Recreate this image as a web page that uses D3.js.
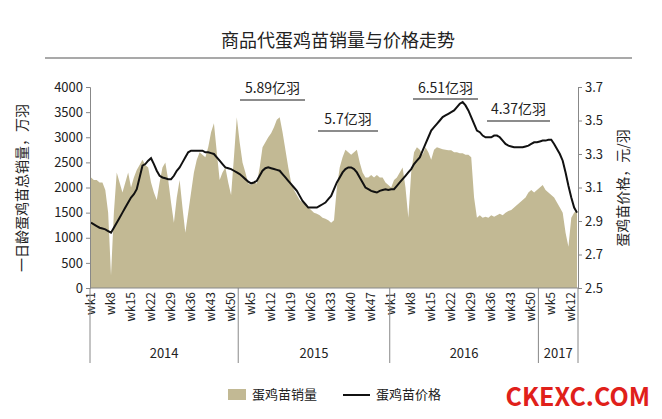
<!DOCTYPE html>
<html><head><meta charset="utf-8">
<script src="https://cdn.jsdelivr.net/npm/d3@7/dist/d3.min.js"></script>
<style>body{margin:0;background:#fff}text{font-family:"Noto Sans CJK SC","Liberation Sans",sans-serif}</style>
</head><body><svg id="c" width="662" height="419"></svg>
<script>
const years = ['2014', '2015', '2016', '2017']
const weeksPerYear = [52, 53, 52, 14]
const sales = [2200,2150,2150,2100,2100,1950,1500,250,1500,2300,2100,1900,2100,2300,2000,2200,2350,2450,2550,2450,
  2400,2100,1900,1750,2100,2400,2500,2150,1700,1300,1800,2150,1600,1100,1500,1900,2300,2550,2700,2650,
  2600,2800,3100,3280,2700,2150,2300,2400,2100,1850,2600,3400,2900,2500,2300,2080,2050,2100,2080,2400,
  2800,2900,3000,3080,3200,3350,3400,3100,2750,2400,2100,1950,1850,1750,1700,1650,1600,1550,1500,1480,
  1450,1400,1380,1350,1300,1350,2000,2400,2600,2750,2700,2650,2700,2750,2500,2300,2200,2200,2250,2200,
  2250,2200,2200,2100,2050,2000,2150,2200,2300,2400,2000,1400,2300,2700,2800,2750,2650,2800,2700,2550,
  2750,2800,2780,2760,2750,2740,2740,2700,2700,2680,2680,2650,2650,2600,1800,1400,1450,1400,1420,1400,
  1450,1420,1450,1480,1450,1500,1530,1550,1600,1650,1700,1750,1800,1900,1950,1900,1950,2000,2050,1950,
  1900,1850,1800,1700,1600,1500,1100,820,1400,1500,1550]
const price = [2.89,2.88,2.87,2.86,2.855,2.85,2.84,2.83,2.86,2.89,2.92,2.95,2.98,3.01,3.04,3.06,3.09,3.16,3.23,3.24,
  3.26,3.275,3.24,3.2,3.17,3.16,3.155,3.15,3.15,3.17,3.2,3.22,3.25,3.28,3.31,3.32,3.32,3.32,3.32,3.32,
  3.31,3.31,3.305,3.3,3.28,3.26,3.24,3.22,3.215,3.21,3.2,3.19,3.18,3.165,3.15,3.135,3.125,3.13,3.14,3.17,
  3.2,3.215,3.22,3.215,3.21,3.205,3.2,3.18,3.16,3.14,3.12,3.1,3.08,3.05,3.02,3.0,2.98,2.98,2.98,2.98,
  2.99,3.0,3.01,3.03,3.05,3.09,3.13,3.16,3.19,3.21,3.22,3.22,3.21,3.19,3.16,3.13,3.1,3.09,3.08,3.075,
  3.07,3.08,3.085,3.09,3.085,3.09,3.09,3.11,3.13,3.15,3.17,3.19,3.21,3.24,3.26,3.28,3.32,3.36,3.4,3.44,
  3.46,3.48,3.5,3.52,3.53,3.54,3.55,3.56,3.58,3.6,3.61,3.59,3.56,3.52,3.48,3.44,3.43,3.41,3.4,3.4,
  3.4,3.41,3.41,3.4,3.38,3.36,3.35,3.345,3.34,3.34,3.34,3.34,3.345,3.35,3.36,3.37,3.37,3.375,3.38,3.38,
  3.385,3.385,3.36,3.33,3.3,3.26,3.19,3.11,3.04,2.98,2.95]
const notes = [['5.89亿羽', 240, 93, 305, 100], ['5.7亿羽', 318, 124, 378, 131], ['6.51亿羽', 413, 93, 478, 99], ['4.37亿羽', 487, 114, 550, 121]]

// categories: one per week, labelled every 7th
const cats = []
weeksPerYear.forEach((n, yi) => { for (let w = 1; w <= n; w++) cats.push({ year: yi, wk: w, i: cats.length }) })

const svg = d3.select('#c')
const m = { l: 90, r: 578, t: 87, b: 288 }
const x = d3.scaleLinear().domain([0, cats.length - 1]).range([m.l + 1, m.r - 1])
const y = d3.scaleLinear().domain([0, 4000]).range([m.b, m.t])
const y2 = d3.scaleLinear().domain([2.5, 3.7]).range([m.b, m.t])

svg.append('text').attr('x', 338).attr('y', 47).attr('text-anchor', 'middle').attr('font-size', 18).attr('fill', '#222').text('商品代蛋鸡苗销量与价格走势')
svg.append('line').attr('x1', 45).attr('x2', 632).attr('y1', 58).attr('y2', 58).attr('stroke', '#555').attr('stroke-width', 1.2)

svg.append('path').datum(sales)
  .attr('d', d3.area().x((d, i) => x(i)).y0(m.b).y1(d => y(d)))
  .attr('fill', '#c2b994')

svg.append('path').datum(price)
  .attr('d', d3.line().x((d, i) => x(i)).y(d => y2(d)))
  .attr('fill', 'none').attr('stroke', '#111').attr('stroke-width', 2)

const axL = svg.append('g').attr('transform', `translate(${m.l},0)`)
  .call(d3.axisLeft(y).tickValues(d3.range(0, 4001, 500)).tickFormat(d3.format('d')).tickSize(4))
const axR = svg.append('g').attr('transform', `translate(${m.r},0)`)
  .call(d3.axisRight(y2).tickValues(d3.range(2.5, 3.71, 0.2)).tickFormat(d3.format('.1f')).tickSize(4))
;[axL, axR].forEach(a => {
  a.selectAll('path,line').attr('stroke', '#888')
  a.selectAll('text').attr('font-size', 13).attr('fill', '#222').attr('font-family', 'Liberation Sans, sans-serif')
})

const gx = svg.append('g')
gx.append('line').attr('x1', m.l).attr('x2', m.r).attr('y1', m.b).attr('y2', m.b).attr('stroke', '#888')
gx.selectAll('text.wk').data(cats.filter(c => c.i % 7 === 0)).enter().append('text')
  .attr('transform', c => `translate(${x(c.i) + 4},${m.b + 4}) rotate(-90)`)
  .attr('text-anchor', 'end').attr('font-size', 12).attr('fill', '#222')
  .attr('font-family', 'Liberation Sans, sans-serif').text(c => 'wk' + c.wk)

let start = 0
const bounds = [0]
weeksPerYear.forEach(n => { start += n; bounds.push(start) })
bounds.forEach((b, bi) => {
  const bx = bi === 0 ? m.l : bi === bounds.length - 1 ? m.r : x(b - 0.5)
  gx.append('line').attr('x1', bx).attr('x2', bx).attr('y1', m.b).attr('y2', 363).attr('stroke', '#888')
})
years.forEach((yr, yi) => {
  const a = yi === 0 ? m.l : x(bounds[yi] - 0.5)
  const b = yi === years.length - 1 ? m.r : x(bounds[yi + 1] - 0.5)
  gx.append('text').attr('x', (a + b) / 2).attr('y', 358).attr('text-anchor', 'middle')
    .attr('font-size', 13).attr('fill', '#222').attr('font-family', 'Liberation Sans, sans-serif').text(yr)
})

svg.append('text').attr('transform', 'translate(27,188) rotate(-90)').attr('text-anchor', 'middle')
  .attr('font-size', 14).attr('fill', '#222').text('一日龄蛋鸡苗总销量，万羽')
svg.append('text').attr('transform', 'translate(628,188) rotate(-90)').attr('text-anchor', 'middle')
  .attr('font-size', 14).attr('fill', '#222').text('蛋鸡苗价格，元/羽')

notes.forEach(n => {
  svg.append('text').attr('x', (n[1] + n[3]) / 2).attr('y', n[2]).attr('text-anchor', 'middle')
    .attr('font-size', 14).attr('fill', '#222').text(n[0])
  svg.append('line').attr('x1', n[1]).attr('x2', n[3]).attr('y1', n[4]).attr('y2', n[4]).attr('stroke', '#666').attr('stroke-width', 1.5)
})

svg.append('rect').attr('x', 228).attr('y', 389).attr('width', 18).attr('height', 11).attr('fill', '#c2b994')
svg.append('text').attr('x', 252).attr('y', 399).attr('font-size', 13).attr('fill', '#222').text('蛋鸡苗销量')
svg.append('line').attr('x1', 343).attr('x2', 370).attr('y1', 395).attr('y2', 395).attr('stroke', '#111').attr('stroke-width', 2)
svg.append('text').attr('x', 376).attr('y', 399).attr('font-size', 13).attr('fill', '#222').text('蛋鸡苗价格')
svg.append('text').attr('x', 650).attr('y', 406).attr('text-anchor', 'end').attr('font-size', 25).attr('font-weight', 'bold')
  .attr('fill', '#e0201a').attr('font-family', 'Liberation Sans, sans-serif').text('CKEXC.COM')
</script></body></html>
